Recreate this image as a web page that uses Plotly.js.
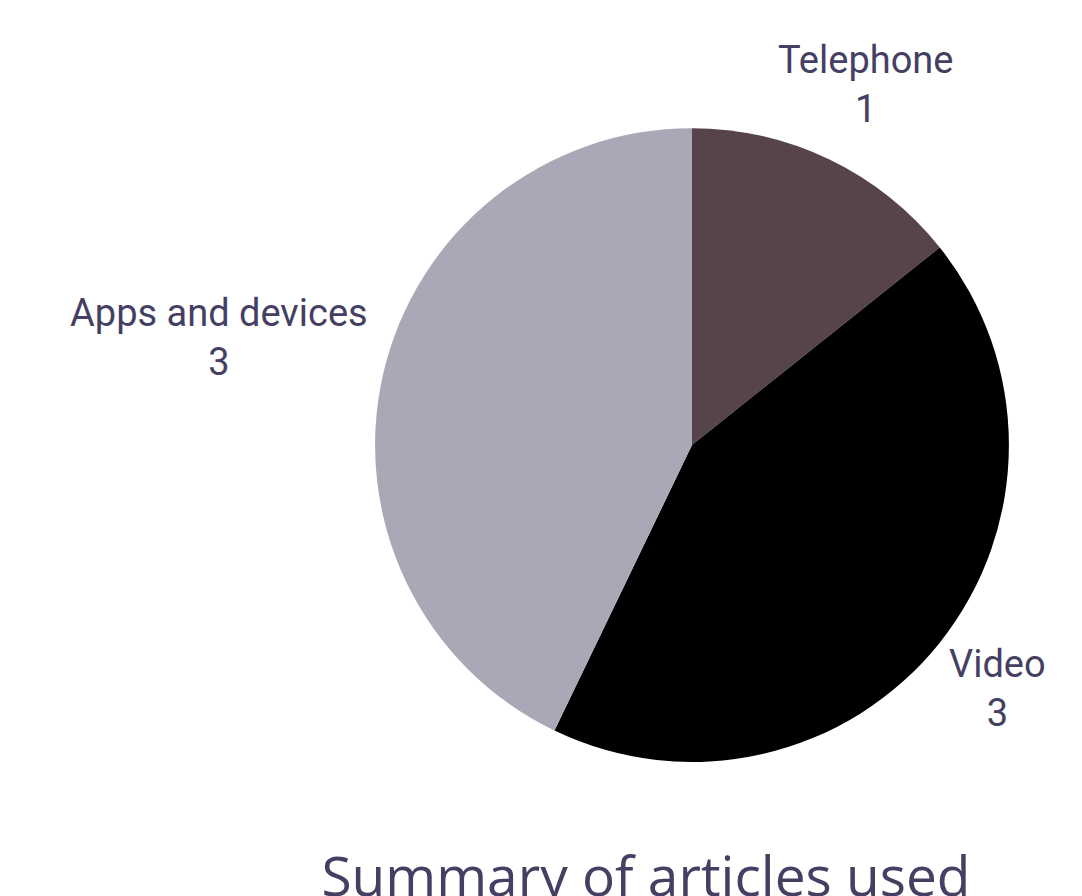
<!DOCTYPE html>
<html>
<head>
<meta charset="utf-8">
<script src="https://cdn.plot.ly/plotly-3.0.1.min.js"></script>
<style>html,body{margin:0;padding:0;background:#fff;}#chart{width:1082px;height:896px;}</style>
</head>
<body>
<div id="chart"></div>
<script>
const categories = ["Telephone", "Video", "Apps and devices"];
const counts = [1, 3, 3];
const sliceColors = ["#57434b", "#000000", "#aaa8b6"];
const chartTitle = "Summary of articles used";

const W = 1082, H = 896;
const pieDomain = {x: [0.3466, 0.9325], y: [0.1496, 0.857]};
const labelFont = {family: "Roboto, sans-serif", size: 38, color: "#453f63"};

const trace = {
  type: "pie",
  labels: categories,
  values: counts,
  sort: false,
  direction: "clockwise",
  rotation: 0,
  marker: {colors: sliceColors, line: {width: 0}},
  textinfo: "none",
  automargin: false,
  hoverinfo: "none",
  domain: pieDomain
};

// Outside labels: placed along each slice's mid-angle ray so the label box touches a circle just outside the pie
const cx = (pieDomain.x[0] + pieDomain.x[1]) / 2 * W;
const cy = (1 - (pieDomain.y[0] + pieDomain.y[1]) / 2) * H;
const pieR = Math.min((pieDomain.x[1] - pieDomain.x[0]) * W, (pieDomain.y[1] - pieDomain.y[0]) * H) / 2;
const gap = 16;
const ctx = document.createElement("canvas").getContext("2d");
ctx.font = labelFont.size + "px Roboto";
const total = counts.reduce((a, b) => a + b, 0);
let cum = 0;
const annotations = categories.map((cat, i) => {
  const mid = (cum + counts[i] / 2) / total * 2 * Math.PI;
  cum += counts[i];
  const ux = Math.sin(mid), uy = -Math.cos(mid);
  const w = Math.max(ctx.measureText(cat).width, ctx.measureText(String(counts[i])).width);
  const h = 64;
  const d = pieR + gap + Math.abs(ux) * w / 2 + Math.abs(uy) * h / 2;
  return {
    xref: "paper", yref: "paper",
    x: (cx + d * ux) / W, y: 1 - (cy + d * uy) / H,
    xanchor: "center", yanchor: "middle",
    text: cat + "<br>" + counts[i],
    showarrow: false,
    font: labelFont
  };
});

const layout = {
  width: W,
  height: H,
  margin: {l: 0, r: 0, t: 0, b: 0},
  paper_bgcolor: "#ffffff",
  showlegend: false,
  annotations: annotations,
  title: {
    text: chartTitle,
    font: {family: "'Open Sans', sans-serif", size: 55, color: "#453f63"},
    x: 0.597, xanchor: "center",
    y: 0, yanchor: "bottom"
  }
};

Plotly.newPlot("chart", [trace], layout, {displayModeBar: false, staticPlot: true});
</script>
</body>
</html>
